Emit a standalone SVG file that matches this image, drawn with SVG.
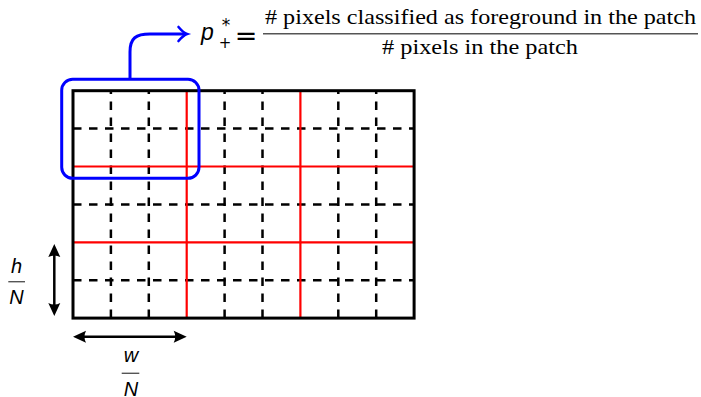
<svg xmlns="http://www.w3.org/2000/svg" width="701" height="397" viewBox="0 0 701 397">
<style>
.dash{stroke:#000;stroke-width:2.5;stroke-dasharray:8.5 7.5;fill:none}
.red{stroke:#ff0000;stroke-width:2.2;fill:none}
.frame{stroke:#000;stroke-width:3;fill:none}
.fbar{stroke:#555;stroke-width:1.4}
</style>
<defs>
<marker id="ah" viewBox="-8 -7 15 14" refX="0" refY="0" markerWidth="15" markerHeight="14" markerUnits="userSpaceOnUse" orient="auto-start-reverse">
<path d="M6,0 L-7,-6 Q-4,0 -7,6 Z" fill="#000"/>
</marker>
</defs>
<g id="grid">
<g id="dashed-v">
<path class="dash" d="M110.9,318.1V90.7M148.8,318.1V90.7M224.6,318.1V90.7M262.5,318.1V90.7M338.3,318.1V90.7M376.2,318.1V90.7"/>
</g>
<g id="dashed-h">
<path class="dash" d="M73,128.6H414.1M73,204.4H414.1M73,280.2H414.1"/>
</g>
<g id="patch-lines">
<path class="red" d="M186.7,90.7V318.1M300.4,90.7V318.1M73,166.5H414.1M73,242.3H414.1"/>
</g>
<rect id="image-frame" class="frame" x="73" y="90.7" width="341.1" height="227.4"/>
</g>
<g id="patch-highlight">
<rect x="61.7" y="79.3" width="137.3" height="99" rx="11" fill="none" stroke="#0000ff" stroke-width="3"/>
</g>
<g id="connectors">
<path d="M130,79 V52 C130,38 136,34 150,34 H186" fill="none" stroke="#0000ff" stroke-width="3"/>
<path d="M178.5,27 C181.5,30.5 184,33 187,34 C184,35 181.5,37.5 178.5,41" fill="none" stroke="#0000ff" stroke-width="2.6" stroke-linecap="round"/>
<line x1="54.3" y1="250" x2="54.3" y2="310" stroke="#000" stroke-width="2.5" marker-start="url(#ah)" marker-end="url(#ah)"/>
<line x1="79" y1="336.7" x2="180.7" y2="336.7" stroke="#000" stroke-width="2.5" marker-start="url(#ah)" marker-end="url(#ah)"/>
</g>
<g id="formula">
<text x="201" y="39.7" style="font-family:'Liberation Sans',Arial,sans-serif;font-style:italic;font-size:23px">p</text>
<text x="226" y="31" text-anchor="middle" style="font-family:'DejaVu Sans',sans-serif;font-size:17px">*</text>
<text x="225" y="47.5" text-anchor="middle" style="font-family:'DejaVu Sans',sans-serif;font-size:15px">+</text>
<text x="246" y="45" text-anchor="middle" style="font-family:'DejaVu Sans',sans-serif;font-size:27px">=</text>
<text x="265" y="23.5" style="font-family:'Liberation Serif','Times New Roman',serif;font-size:21px" textLength="431" lengthAdjust="spacingAndGlyphs"># pixels classified as foreground in the patch</text>
<line class="fbar" x1="263" y1="33.8" x2="698" y2="33.8"/>
<text x="382" y="53.5" style="font-family:'Liberation Serif','Times New Roman',serif;font-size:21px" textLength="196" lengthAdjust="spacingAndGlyphs"># pixels in the patch</text>
</g>
<g id="label-h">
<text x="16.5" y="272.7" text-anchor="middle" style="font-family:'Liberation Sans',Arial,sans-serif;font-style:italic;font-size:20px">h</text>
<line class="fbar" x1="8.3" y1="281.7" x2="25" y2="281.7"/>
<text x="16.5" y="304" text-anchor="middle" style="font-family:'Liberation Sans',Arial,sans-serif;font-style:italic;font-size:20px">N</text>
</g>
<g id="label-w">
<text x="131" y="362" text-anchor="middle" style="font-family:'Liberation Sans',Arial,sans-serif;font-style:italic;font-size:20px">w</text>
<line class="fbar" x1="121.7" y1="373.3" x2="139.3" y2="373.3"/>
<text x="131" y="396" text-anchor="middle" style="font-family:'Liberation Sans',Arial,sans-serif;font-style:italic;font-size:20px">N</text>
</g>
</svg>
